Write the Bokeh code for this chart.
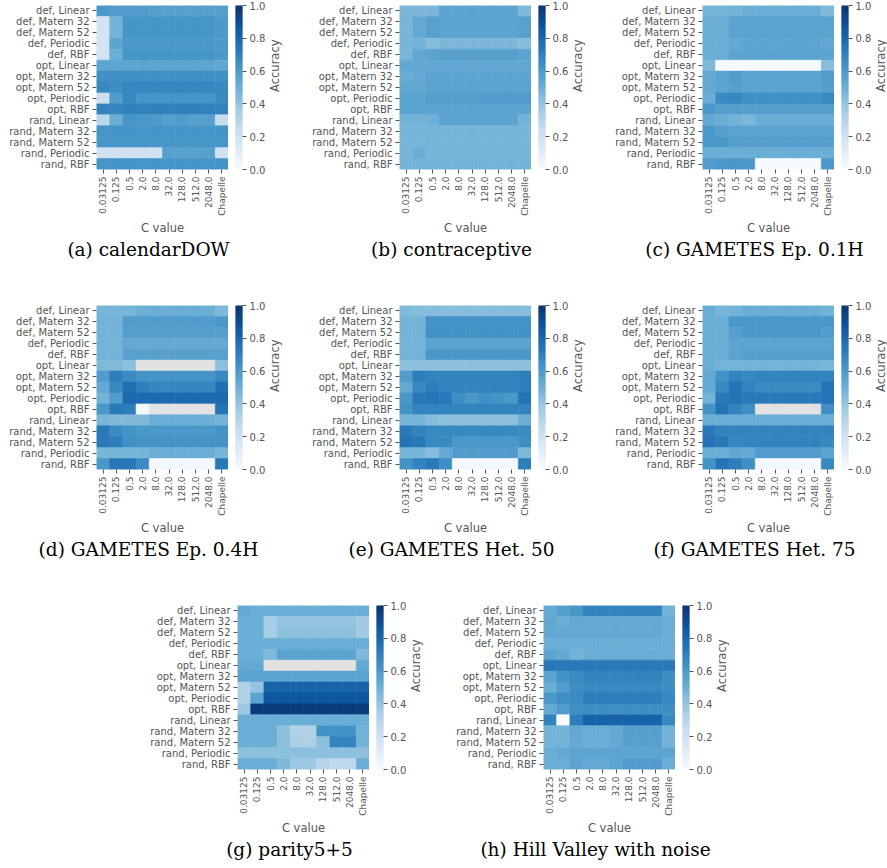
import math
import numpy as np
from bokeh.plotting import figure
from bokeh.models import (FactorRange, Range1d, LinearColorMapper, FixedTicker, Label,
                          PrintfTickFormatter, ColumnDataSource, Spacer)
from bokeh.layouts import row, column
from bokeh.palettes import Blues256
from bokeh.transform import transform
from bokeh.embed import file_html
from bokeh.resources import INLINE

NaN = float("nan")

c_values = ["0.03125", "0.125", "0.5", "2.0", "8.0", "32.0", "128.0", "512.0", "2048.0", "Chapelle"]
settings = ["def, Linear", "def, Matern 32", "def, Matern 52", "def, Periodic", "def, RBF",
            "opt, Linear", "opt, Matern 32", "opt, Matern 52", "opt, Periodic", "opt, RBF",
            "rand, Linear", "rand, Matern 32", "rand, Matern 52", "rand, Periodic", "rand, RBF"]
colorbar_ticks = [0.0, 0.2, 0.4, 0.6, 0.8, 1.0]

calendar_dow = [
    [0.59, 0.58, 0.58, 0.58, 0.57, 0.56, 0.56, 0.56, 0.56, 0.57],
    [0.19, 0.48, 0.61, 0.61, 0.61, 0.61, 0.61, 0.61, 0.61, 0.59],
    [0.19, 0.48, 0.61, 0.61, 0.61, 0.61, 0.61, 0.61, 0.61, 0.59],
    [0.19, 0.54, 0.60, 0.60, 0.60, 0.60, 0.60, 0.60, 0.60, 0.59],
    [0.19, 0.50, 0.61, 0.61, 0.61, 0.61, 0.61, 0.61, 0.61, 0.60],
    [0.54, 0.54, 0.54, 0.54, 0.54, 0.54, 0.54, 0.54, 0.54, 0.53],
    [0.63, 0.63, 0.63, 0.63, 0.63, 0.63, 0.63, 0.63, 0.63, 0.63],
    [0.66, 0.64, 0.67, 0.67, 0.67, 0.67, 0.67, 0.67, 0.67, 0.66],
    [0.22, 0.58, 0.66, 0.61, 0.61, 0.61, 0.61, 0.61, 0.61, 0.65],
    [0.68, 0.67, 0.69, 0.69, 0.69, 0.69, 0.69, 0.69, 0.69, 0.68],
    [0.28, 0.50, 0.61, 0.60, 0.59, 0.57, 0.58, 0.56, 0.56, 0.24],
    [0.61, 0.61, 0.61, 0.61, 0.61, 0.61, 0.61, 0.61, 0.61, 0.61],
    [0.61, 0.61, 0.61, 0.61, 0.61, 0.61, 0.61, 0.61, 0.61, 0.61],
    [0.20, 0.20, 0.20, 0.20, 0.20, 0.56, 0.56, 0.56, 0.56, 0.20],
    [0.61, 0.61, 0.61, 0.61, 0.61, 0.61, 0.61, 0.61, 0.61, 0.61],
]

contraceptive = [
    [0.46, 0.46, 0.46, 0.54, 0.54, 0.54, 0.54, 0.54, 0.54, 0.45],
    [0.47, 0.52, 0.56, 0.55, 0.55, 0.55, 0.55, 0.55, 0.55, 0.56],
    [0.47, 0.52, 0.56, 0.55, 0.55, 0.55, 0.55, 0.55, 0.55, 0.56],
    [0.47, 0.48, 0.43, 0.46, 0.46, 0.46, 0.46, 0.46, 0.46, 0.43],
    [0.47, 0.53, 0.55, 0.56, 0.56, 0.56, 0.56, 0.56, 0.56, 0.55],
    [0.53, 0.53, 0.53, 0.53, 0.53, 0.53, 0.53, 0.53, 0.53, 0.53],
    [0.51, 0.52, 0.54, 0.54, 0.54, 0.54, 0.54, 0.54, 0.54, 0.54],
    [0.53, 0.53, 0.55, 0.55, 0.55, 0.55, 0.55, 0.55, 0.55, 0.55],
    [0.55, 0.55, 0.57, 0.57, 0.57, 0.57, 0.58, 0.58, 0.58, 0.58],
    [0.55, 0.55, 0.55, 0.55, 0.55, 0.55, 0.55, 0.55, 0.55, 0.55],
    [0.48, 0.48, 0.49, 0.55, 0.55, 0.55, 0.55, 0.55, 0.55, 0.48],
    [0.47, 0.47, 0.47, 0.47, 0.47, 0.47, 0.47, 0.47, 0.47, 0.47],
    [0.47, 0.47, 0.47, 0.47, 0.47, 0.47, 0.47, 0.47, 0.47, 0.47],
    [0.47, 0.50, 0.47, 0.47, 0.47, 0.47, 0.47, 0.47, 0.47, 0.47],
    [0.48, 0.48, 0.48, 0.48, 0.48, 0.48, 0.48, 0.48, 0.48, 0.48],
]

gametes_ep_01h = [
    [0.47, 0.47, 0.48, 0.50, 0.50, 0.50, 0.50, 0.50, 0.50, 0.45],
    [0.50, 0.50, 0.55, 0.55, 0.55, 0.55, 0.55, 0.55, 0.55, 0.55],
    [0.50, 0.50, 0.55, 0.55, 0.55, 0.55, 0.55, 0.55, 0.55, 0.55],
    [0.50, 0.50, 0.52, 0.54, 0.54, 0.54, 0.54, 0.54, 0.54, 0.53],
    [0.50, 0.50, 0.54, 0.55, 0.55, 0.55, 0.55, 0.55, 0.55, 0.55],
    [0.45, 0.01, 0.01, 0.01, 0.01, 0.01, 0.01, 0.01, 0.01, 0.43],
    [0.52, 0.55, 0.58, 0.55, 0.55, 0.55, 0.55, 0.55, 0.55, 0.58],
    [0.52, 0.54, 0.56, 0.55, 0.55, 0.55, 0.55, 0.55, 0.55, 0.57],
    [0.50, 0.65, 0.67, 0.63, 0.63, 0.63, 0.63, 0.63, 0.63, 0.66],
    [0.60, 0.57, 0.57, 0.57, 0.57, 0.57, 0.57, 0.57, 0.57, 0.57],
    [0.52, 0.50, 0.48, 0.46, 0.50, 0.50, 0.50, 0.50, 0.50, 0.50],
    [0.60, 0.56, 0.55, 0.55, 0.55, 0.55, 0.55, 0.55, 0.55, 0.55],
    [0.60, 0.60, 0.56, 0.57, 0.57, 0.57, 0.57, 0.57, 0.57, 0.57],
    [0.50, 0.50, 0.50, 0.50, 0.50, 0.50, 0.50, 0.50, 0.50, 0.50],
    [0.58, 0.60, 0.60, 0.60, 0.01, 0.01, 0.01, 0.01, 0.01, 0.60],
]

gametes_ep_04h = [
    [0.47, 0.47, 0.47, 0.50, 0.50, 0.50, 0.50, 0.50, 0.50, 0.45],
    [0.48, 0.48, 0.58, 0.58, 0.58, 0.58, 0.58, 0.58, 0.58, 0.60],
    [0.48, 0.48, 0.57, 0.57, 0.57, 0.57, 0.57, 0.57, 0.57, 0.56],
    [0.48, 0.48, 0.52, 0.52, 0.52, 0.52, 0.52, 0.52, 0.52, 0.52],
    [0.48, 0.48, 0.56, 0.56, 0.56, 0.56, 0.56, 0.56, 0.56, 0.56],
    [0.45, 0.45, 0.42, NaN, NaN, NaN, NaN, NaN, NaN, 0.42],
    [0.58, 0.70, 0.65, 0.62, 0.62, 0.62, 0.62, 0.62, 0.62, 0.66],
    [0.52, 0.66, 0.75, 0.70, 0.67, 0.67, 0.67, 0.67, 0.67, 0.75],
    [0.48, 0.58, 0.78, 0.78, 0.78, 0.78, 0.78, 0.78, 0.78, 0.78],
    [0.60, 0.72, 0.70, 0.02, NaN, NaN, NaN, NaN, NaN, 0.74],
    [0.47, 0.45, 0.45, 0.45, 0.50, 0.50, 0.50, 0.50, 0.50, 0.48],
    [0.72, 0.65, 0.62, 0.60, 0.60, 0.60, 0.60, 0.60, 0.60, 0.62],
    [0.72, 0.70, 0.63, 0.62, 0.62, 0.62, 0.62, 0.62, 0.62, 0.62],
    [0.47, 0.47, 0.47, 0.47, 0.50, 0.50, 0.50, 0.50, 0.50, 0.47],
    [0.60, 0.73, 0.73, 0.65, 0.02, 0.02, 0.02, 0.02, 0.02, 0.72],
]

gametes_het_50 = [
    [0.45, 0.44, 0.43, 0.43, 0.43, 0.43, 0.43, 0.43, 0.43, 0.43],
    [0.48, 0.48, 0.62, 0.62, 0.62, 0.62, 0.62, 0.62, 0.62, 0.62],
    [0.48, 0.48, 0.62, 0.62, 0.62, 0.62, 0.62, 0.62, 0.62, 0.62],
    [0.48, 0.48, 0.55, 0.55, 0.55, 0.55, 0.55, 0.55, 0.55, 0.55],
    [0.48, 0.48, 0.60, 0.60, 0.60, 0.60, 0.60, 0.60, 0.60, 0.60],
    [0.42, 0.42, 0.42, 0.42, 0.42, 0.42, 0.42, 0.42, 0.42, 0.42],
    [0.58, 0.70, 0.68, 0.68, 0.68, 0.68, 0.68, 0.68, 0.68, 0.70],
    [0.52, 0.66, 0.70, 0.68, 0.68, 0.68, 0.68, 0.68, 0.68, 0.70],
    [0.60, 0.72, 0.74, 0.72, 0.64, 0.60, 0.63, 0.62, 0.60, 0.74],
    [0.62, 0.68, 0.68, 0.68, 0.68, 0.68, 0.68, 0.68, 0.68, 0.68],
    [0.47, 0.47, 0.43, 0.42, 0.42, 0.42, 0.42, 0.42, 0.42, 0.50],
    [0.72, 0.68, 0.66, 0.66, 0.66, 0.66, 0.66, 0.66, 0.66, 0.65],
    [0.74, 0.72, 0.66, 0.65, 0.60, 0.60, 0.60, 0.60, 0.60, 0.64],
    [0.47, 0.47, 0.43, 0.52, 0.58, 0.58, 0.58, 0.58, 0.58, 0.45],
    [0.62, 0.68, 0.72, 0.64, 0.02, 0.02, 0.02, 0.02, 0.02, 0.70],
]

gametes_het_75 = [
    [0.50, 0.47, 0.48, 0.50, 0.50, 0.50, 0.50, 0.50, 0.50, 0.48],
    [0.50, 0.50, 0.60, 0.60, 0.60, 0.60, 0.60, 0.60, 0.60, 0.60],
    [0.50, 0.50, 0.57, 0.60, 0.60, 0.60, 0.60, 0.60, 0.60, 0.58],
    [0.50, 0.50, 0.55, 0.55, 0.55, 0.55, 0.55, 0.55, 0.55, 0.55],
    [0.50, 0.50, 0.55, 0.57, 0.57, 0.57, 0.57, 0.57, 0.57, 0.57],
    [0.50, 0.48, 0.48, 0.48, 0.48, 0.48, 0.48, 0.48, 0.48, 0.47],
    [0.52, 0.62, 0.68, 0.66, 0.68, 0.68, 0.68, 0.68, 0.68, 0.68],
    [0.52, 0.66, 0.74, 0.68, 0.65, 0.65, 0.65, 0.65, 0.65, 0.74],
    [0.48, 0.72, 0.74, 0.72, 0.72, 0.72, 0.72, 0.72, 0.72, 0.74],
    [0.62, 0.74, 0.68, 0.64, NaN, NaN, NaN, NaN, NaN, 0.64],
    [0.50, 0.50, 0.50, 0.50, 0.50, 0.50, 0.50, 0.50, 0.50, 0.50],
    [0.72, 0.68, 0.68, 0.68, 0.68, 0.68, 0.68, 0.68, 0.68, 0.68],
    [0.74, 0.72, 0.66, 0.68, 0.68, 0.68, 0.68, 0.68, 0.68, 0.66],
    [0.50, 0.50, 0.53, 0.52, 0.58, 0.58, 0.58, 0.58, 0.58, 0.55],
    [0.62, 0.74, 0.70, 0.64, 0.02, 0.02, 0.02, 0.02, 0.02, 0.66],
]

parity_5_5 = [
    [0.52, 0.50, 0.50, 0.50, 0.50, 0.50, 0.50, 0.50, 0.50, 0.50],
    [0.50, 0.50, 0.35, 0.40, 0.40, 0.40, 0.40, 0.40, 0.40, 0.37],
    [0.50, 0.50, 0.35, 0.42, 0.42, 0.42, 0.42, 0.42, 0.42, 0.37],
    [0.50, 0.50, 0.50, 0.50, 0.50, 0.50, 0.50, 0.50, 0.50, 0.50],
    [0.50, 0.50, 0.45, 0.55, 0.55, 0.55, 0.55, 0.55, 0.55, 0.45],
    [0.52, 0.52, NaN, NaN, NaN, NaN, NaN, NaN, NaN, 0.52],
    [0.55, 0.55, 0.55, 0.55, 0.55, 0.55, 0.55, 0.55, 0.55, 0.55],
    [0.32, 0.40, 0.80, 0.80, 0.80, 0.80, 0.80, 0.80, 0.80, 0.80],
    [0.32, 0.55, 0.85, 0.85, 0.85, 0.85, 0.85, 0.85, 0.85, 0.85],
    [0.38, 0.95, 0.95, 0.95, 0.95, 0.95, 0.95, 0.95, 0.95, 0.95],
    [0.50, 0.50, 0.50, 0.50, 0.50, 0.50, 0.50, 0.50, 0.50, 0.50],
    [0.50, 0.50, 0.50, 0.42, 0.32, 0.32, 0.62, 0.62, 0.62, 0.48],
    [0.50, 0.50, 0.50, 0.42, 0.33, 0.33, 0.42, 0.68, 0.68, 0.48],
    [0.42, 0.42, 0.42, 0.42, 0.42, 0.42, 0.42, 0.42, 0.42, 0.42],
    [0.50, 0.50, 0.50, 0.45, 0.38, 0.38, 0.30, 0.27, 0.28, 0.50],
]

hill_valley_noise = [
    [0.52, 0.56, 0.60, 0.68, 0.68, 0.68, 0.68, 0.68, 0.68, 0.48],
    [0.53, 0.50, 0.52, 0.52, 0.52, 0.52, 0.52, 0.52, 0.52, 0.50],
    [0.53, 0.52, 0.52, 0.52, 0.52, 0.52, 0.52, 0.52, 0.52, 0.50],
    [0.50, 0.50, 0.50, 0.50, 0.50, 0.50, 0.50, 0.50, 0.50, 0.50],
    [0.55, 0.52, 0.48, 0.50, 0.50, 0.50, 0.50, 0.50, 0.50, 0.50],
    [0.72, 0.72, 0.72, 0.72, 0.72, 0.72, 0.72, 0.72, 0.72, 0.72],
    [0.55, 0.62, 0.65, 0.68, 0.68, 0.68, 0.68, 0.68, 0.68, 0.64],
    [0.50, 0.58, 0.64, 0.66, 0.66, 0.66, 0.66, 0.66, 0.66, 0.64],
    [0.60, 0.64, 0.65, 0.70, 0.70, 0.70, 0.70, 0.70, 0.70, 0.66],
    [0.52, 0.58, 0.64, 0.64, 0.64, 0.64, 0.64, 0.64, 0.64, 0.64],
    [0.68, 0.00, 0.70, 0.80, 0.80, 0.80, 0.80, 0.80, 0.80, 0.66],
    [0.48, 0.48, 0.52, 0.50, 0.50, 0.52, 0.56, 0.56, 0.56, 0.48],
    [0.48, 0.48, 0.52, 0.50, 0.50, 0.52, 0.56, 0.56, 0.56, 0.48],
    [0.50, 0.52, 0.54, 0.54, 0.54, 0.54, 0.54, 0.54, 0.54, 0.54],
    [0.50, 0.50, 0.54, 0.52, 0.52, 0.54, 0.58, 0.58, 0.58, 0.50],
]

# ---------------------------------------------------------------- styling
FW, FH = 132, 164
T, B = 5, 68            # border above / below each heat map frame
CB_RIGHT, ACC_W = 24, 16
TICK_COLOR = "#555555"
palette = list(reversed(Blues256))
mapper = LinearColorMapper(palette=palette, low=0.0, high=1.0, nan_color="#e2e2e2")


def blank(width, height):
    f = figure(width=width, height=height, x_range=Range1d(0, width), y_range=Range1d(0, height),
               min_border=0, x_axis_location=None, y_axis_location=None,
               toolbar_location=None, output_backend="svg")
    f.grid.visible = False
    f.outline_line_color = None
    return f


def make_panel(data, caption, left, cap_h, cap_dy):
    xs, ys, vs = [], [], []
    for i, s in enumerate(settings):
        for j, c in enumerate(c_values):
            xs.append(c)
            ys.append(s)
            vs.append(data[i][j])
    src = ColumnDataSource(dict(x=xs, y=ys, v=np.array(vs, dtype=float)))

    p = figure(x_range=FactorRange(*c_values), y_range=FactorRange(*reversed(settings)),
               frame_width=FW, frame_height=FH, min_border_left=left, min_border_right=0,
               min_border_top=T, min_border_bottom=B,
               toolbar_location=None, output_backend="svg")
    p.rect(x="x", y="y", width=1, height=1, source=src,
           fill_color=transform("v", mapper), line_color=transform("v", mapper), line_width=0.6)
    p.grid.visible = False
    p.outline_line_color = None
    for ax in (p.xaxis, p.yaxis):
        ax.axis_line_color = None
        ax.major_tick_line_color = TICK_COLOR
        ax.major_tick_out = 4
        ax.major_tick_in = 0
        ax.major_label_text_font = "DejaVu Sans"
        ax.major_label_text_color = TICK_COLOR
        ax.major_label_standoff = 3
    p.yaxis.major_label_text_font_size = "10px"
    p.xaxis.major_label_text_font_size = "9px"
    p.xaxis.major_label_orientation = math.pi / 2
    p.xaxis.axis_label = "C value"
    p.xaxis.axis_label_text_font = "DejaVu Sans"
    p.xaxis.axis_label_text_font_size = "11.5px"
    p.xaxis.axis_label_text_font_style = "normal"
    p.xaxis.axis_label_text_color = TICK_COLOR
    p.xaxis.axis_label_standoff = 2

    cb = figure(x_range=Range1d(0, 1), y_range=Range1d(0, 1), frame_width=7, frame_height=FH,
                min_border_left=7, min_border_right=CB_RIGHT, min_border_top=T,
                min_border_bottom=B, x_axis_location=None, y_axis_location="right",
                toolbar_location=None, output_backend="svg")
    levels = np.linspace(0, 1, len(palette) + 1)
    cb.quad(left=0, right=1, bottom=levels[:-1], top=levels[1:], fill_color=palette,
            line_color=palette, line_width=0.5)
    cb.grid.visible = False
    cb.outline_line_color = None
    ax = cb.yaxis[0]
    ax.ticker = FixedTicker(ticks=colorbar_ticks, minor_ticks=[])
    ax.formatter = PrintfTickFormatter(format="%.1f")
    ax.axis_line_color = None
    ax.major_tick_line_color = TICK_COLOR
    ax.major_tick_out = 4
    ax.major_tick_in = 0
    ax.minor_tick_line_color = None
    ax.major_label_text_font = "DejaVu Sans"
    ax.major_label_text_font_size = "10px"
    ax.major_label_text_color = TICK_COLOR
    ax.major_label_standoff = 3

    h = T + FH + B
    acc = blank(ACC_W, h)
    acc.add_layout(Label(x=6, y=B + FH / 2, text="Accuracy", angle=math.pi / 2,
                         text_align="center", text_baseline="middle",
                         text_font="DejaVu Sans", text_font_size="11.5px",
                         text_color=TICK_COLOR))

    pw = left + FW + 14 + CB_RIGHT + ACC_W
    cap = blank(pw, cap_h)
    cap.add_layout(Label(x=left + FW / 2 - 14, y=cap_h - cap_dy, text=caption,
                         text_align="center", text_baseline="middle",
                         text_font="DejaVu Serif", text_font_size="18.5px",
                         text_color="black"))
    return column(row(p, cb, acc), cap)


CAP12, CAP3 = 63, 27

row1 = row(make_panel(calendar_dow, "(a) calendarDOW", 96, CAP12, 12),
           make_panel(contraceptive, "(b) contraceptive", 115, CAP12, 12),
           make_panel(gametes_ep_01h, "(c) GAMETES Ep. 0.1H", 115, CAP12, 12))
row2 = row(make_panel(gametes_ep_04h, "(d) GAMETES Ep. 0.4H", 96, CAP12, 12),
           make_panel(gametes_het_50, "(e) GAMETES Het. 50", 115, CAP12, 12),
           make_panel(gametes_het_75, "(f) GAMETES Het. 75", 115, CAP12, 12))
row3 = row(Spacer(width=145, height=T + FH + B + CAP3),
           make_panel(parity_5_5, "(g) parity5+5", 92, CAP3, 12),
           make_panel(hill_valley_noise, "(h) Hill Valley with noise", 118, CAP3, 12))

layout = column(row1, row2, row3)
open("out.html", "w").write(file_html(layout, INLINE))
